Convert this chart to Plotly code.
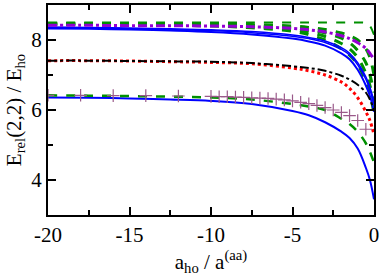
import plotly.graph_objects as go

# common x grid
X = [-20, -17.5, -15, -12.5, -10, -7.5, -5, -4, -3, -2, -1.5, -1, -0.5, -0.25, 0]

# upper group
green_top = [8.50, 8.50, 8.50, 8.50, 8.50, 8.50, 8.50, 8.50, 8.50, 8.50, 8.50, 8.50, 8.49, 8.40, 8.15]
green_u1 = [8.47, 8.47, 8.46, 8.46, 8.45, 8.44, 8.40, 8.36, 8.30, 8.20, 8.12, 8.00, 7.75, 7.50, 7.00]
green_u2 = [8.46, 8.46, 8.45, 8.45, 8.44, 8.41, 8.35, 8.29, 8.20, 8.05, 7.92, 7.70, 7.35, 7.00, 6.50]
green_u3 = [8.45, 8.45, 8.44, 8.43, 8.42, 8.38, 8.30, 8.22, 8.10, 7.90, 7.75, 7.50, 7.05, 6.70, 6.20]
green_u4 = [8.44, 8.44, 8.43, 8.42, 8.40, 8.35, 8.25, 8.15, 8.00, 7.75, 7.57, 7.30, 6.80, 6.45, 5.90]
purple_u = [8.42, 8.42, 8.41, 8.41, 8.40, 8.38, 8.33, 8.29, 8.23, 8.12, 8.04, 7.92, 7.76, 7.62, 7.45]
blue_u1 = [8.37, 8.36, 8.34, 8.32, 8.29, 8.24, 8.14, 8.07, 7.97, 7.78, 7.62, 7.35, 6.95, 6.65, 6.25]
blue_u1b = [8.35, 8.34, 8.32, 8.30, 8.27, 8.21, 8.11, 8.04, 7.93, 7.73, 7.57, 7.29, 6.88, 6.57, 6.15]
blue_u2 = [8.33, 8.32, 8.30, 8.27, 8.23, 8.16, 8.04, 7.96, 7.84, 7.62, 7.45, 7.15, 6.70, 6.40, 5.95]

# middle group
black_m = [7.41, 7.41, 7.40, 7.39, 7.38, 7.34, 7.25, 7.20, 7.12, 6.98, 6.87, 6.72, 6.50, 6.30, 6.00]
red_m = [7.41, 7.41, 7.40, 7.38, 7.36, 7.32, 7.20, 7.12, 7.00, 6.80, 6.62, 6.35, 5.95, 5.70, 5.30]

# lower group
green_l = [6.42, 6.41, 6.40, 6.38, 6.36, 6.30, 6.17, 6.10, 6.00, 5.75, 5.60, 5.38, 5.05, 4.80, 4.50]
blue_l = [6.36, 6.35, 6.33, 6.30, 6.26, 6.17, 5.97, 5.85, 5.65, 5.38, 5.20, 4.90, 4.35, 4.00, 3.45]

cross_x = [-20, -18, -16, -14, -12, -10, -9.5, -9, -8.5, -8, -7.5, -7, -6.5, -6, -5.5,
           -5, -4.5, -4, -3.5, -3, -2.5, -2, -1.5, -1, -0.5]
cross_y = [6.42, 6.42, 6.41, 6.41, 6.40, 6.39, 6.38, 6.38, 6.37, 6.36, 6.35, 6.34, 6.33, 6.31, 6.29,
           6.26, 6.22, 6.18, 6.13, 6.07, 6.00, 5.93, 5.84, 5.70, 5.45]

x_tick_vals = [-20, -15, -10, -5, 0]
x_tick_text = ["-20", "-15", "-10", "-5", "0"]
y_tick_vals = [4, 6, 8]
y_tick_text = ["4", "6", "8"]

BLUE = "#0000ff"
GREEN = "#009000"
RED = "#ff0000"
PURPLE = "#9400d3"
MAUVE = "#9a5a8a"
FONT = "Liberation Serif, Times New Roman, Times, serif"

fig = go.Figure()

def add(y, color, width, dash, x=X):
    fig.add_trace(go.Scatter(x=x, y=y, mode="lines", line=dict(color=color, width=width, dash=dash, shape="spline"),
                             showlegend=False, hoverinfo="skip"))

add(green_top, GREEN, 2, "dash")
for g in (green_u1, green_u2, green_u3, green_u4):
    add(g, GREEN, 3, "dash")
add(blue_u2, BLUE, 2, "solid")
add(blue_u1b, BLUE, 1.5, "solid")
add(blue_u1, BLUE, 1.5, "solid")
add(purple_u, PURPLE, 3, "dashdot")
add(red_m, RED, 3, "dot")
add(black_m, "black", 2, "dashdot")
add(blue_l, BLUE, 2, "solid")
add(green_l, GREEN, 2.5, "dash")
fig.add_trace(go.Scatter(x=cross_x, y=cross_y, mode="markers",
                         marker=dict(symbol="cross-thin", size=9, line=dict(color=MAUVE, width=1.2)),
                         showlegend=False, hoverinfo="skip"))

axis_common = dict(showgrid=False, zeroline=False, showline=True, linecolor="black", linewidth=2,
                   mirror="ticks", ticks="inside", ticklen=8, tickwidth=1.5, tickcolor="black",
                   tickfont=dict(family=FONT, size=21, color="black"))

fig.update_xaxes(range=[-20, 0], tickmode="array", tickvals=x_tick_vals, ticktext=x_tick_text,
                 minor=dict(dtick=2.5, tick0=0, ticklen=5, ticks="inside", tickcolor="black", tickwidth=1.5),
                 title=dict(text="a<sub>ho</sub> / a<sup>(aa)</sup>", font=dict(family=FONT, size=21, color="black"), standoff=6),
                 **axis_common)
fig.update_yaxes(range=[3, 9], tickmode="array", tickvals=y_tick_vals, ticktext=y_tick_text,
                 minor=dict(dtick=1, tick0=0, ticklen=5, ticks="inside", tickcolor="black", tickwidth=1.5),
                 title=dict(text="E<sub>rel</sub>(2,2) / E<sub>ho</sub>", font=dict(family=FONT, size=21, color="black"), standoff=4),
                 **axis_common)

fig.update_layout(width=382, height=279, margin=dict(l=48, r=8, t=3, b=64),
                  paper_bgcolor="white", plot_bgcolor="white")

fig.write_html("out.html", config={"displayModeBar": False})

# remove the default page margin so the figure sits at the window's top-left corner
with open("out.html", encoding="utf-8") as f:
    html = f.read()
html = html.replace("<head>", "<head><style>html,body{margin:0;padding:0;overflow:hidden;}</style>", 1)
with open("out.html", "w", encoding="utf-8") as f:
    f.write(html)
